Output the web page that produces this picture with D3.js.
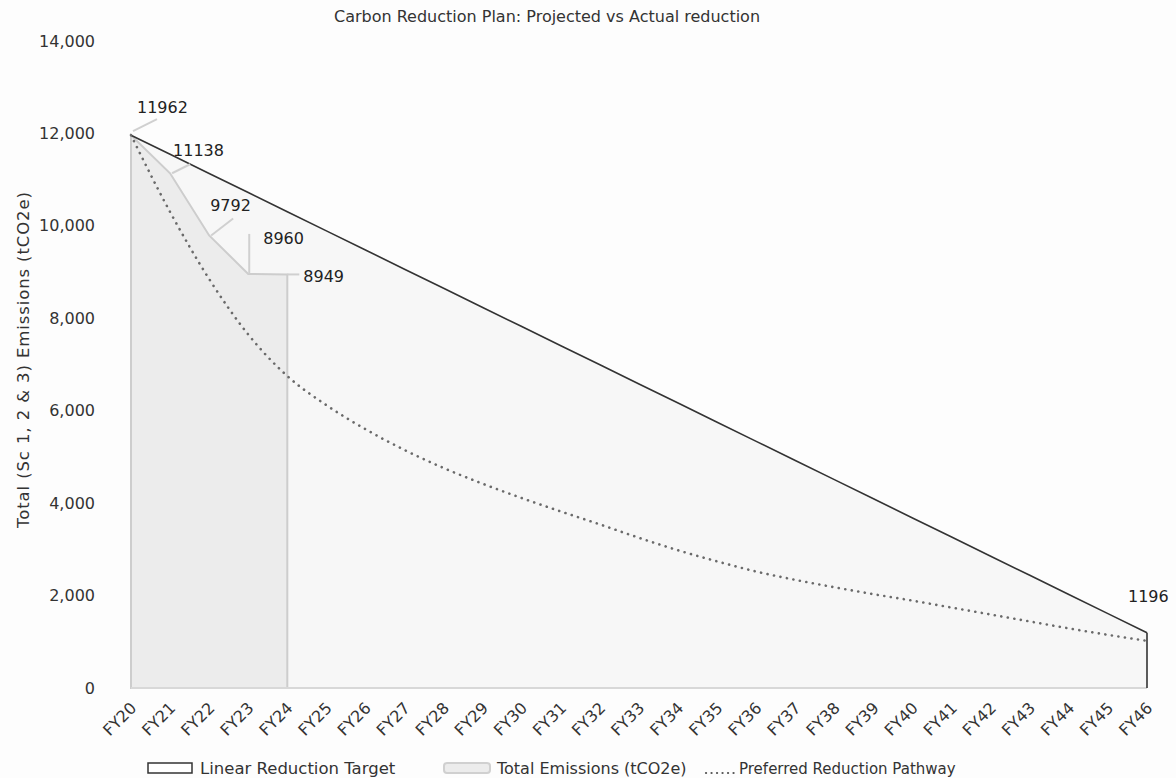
<!DOCTYPE html>
<html>
<head>
<meta charset="utf-8">
<script src="https://cdn.jsdelivr.net/npm/d3@7/dist/d3.min.js"></script>
<style>
  html, body { margin: 0; padding: 0; background: #fdfdfd; }
  svg { display: block; }
  text { font-family: "DejaVu Sans", Verdana, sans-serif; fill: #333; }
</style>
</head>
<body>
<script>
// ---------------- data ----------------
const years = ["FY20","FY21","FY22","FY23","FY24","FY25","FY26","FY27","FY28","FY29","FY30",
  "FY31","FY32","FY33","FY34","FY35","FY36","FY37","FY38","FY39","FY40","FY41","FY42",
  "FY43","FY44","FY45","FY46"];
const linearTarget = [11962,11548,11134,10720,10306,9892,9478,9063,8649,8235,7821,7407,6993,
  6579,6165,5751,5337,4923,4509,4094,3680,3266,2852,2438,2024,1610,1196];
const totalEmissions = [11962,11138,9792,8960,8949];
const preferredPathway = [11962,10300,8850,7650,6750,6120,5600,5150,4760,4420,4110,3820,3540,
  3250,2980,2740,2520,2340,2180,2030,1890,1740,1590,1440,1290,1150,1020];
const yTicks = [0,2000,4000,6000,8000,10000,12000,14000];
const seriesNames = ["Linear Reduction Target","Total Emissions (tCO2e)","Preferred Reduction Pathway"];
const titleText = "Carbon Reduction Plan: Projected vs Actual reduction";
const yAxisTitle = "Total (Sc 1, 2 & 3) Emissions (tCO2e)";

// ---------------- chart ----------------
const W = 1176, H = 778;
const svg = d3.select("body").append("svg").attr("width", W).attr("height", H);
const FONT = "'DejaVu Sans', Verdana, sans-serif";

const x = d3.scalePoint().domain(years).range([131, 1147]);
const y = d3.scaleLinear().domain([0, 14000]).range([688, 41]);

const linData = years.map((yr, i) => ({yr, v: linearTarget[i]}));
const totData = totalEmissions.map((v, i) => ({yr: years[i], v}));
const prefData = years.map((yr, i) => ({yr, v: preferredPathway[i]}));

// linear target area
svg.append("path")
  .datum(linData)
  .attr("fill", "#f7f7f7")
  .attr("d", d3.area().x(d => x(d.yr)).y0(y(0)).y1(d => y(d.v)));

// total emissions area
svg.append("path")
  .datum(totData)
  .attr("fill", "#ececec")
  .attr("stroke", "#cdcdcd")
  .attr("stroke-width", 2)
  .attr("d", d3.area().x(d => x(d.yr)).y0(y(0)).y1(d => y(d.v)));

// baseline
svg.append("line")
  .attr("x1", x(years[0])).attr("x2", x(years[years.length-1]))
  .attr("y1", y(0)).attr("y2", y(0))
  .attr("stroke", "#d8d8d8").attr("stroke-width", 2);

// linear target line
svg.append("path")
  .datum(linData)
  .attr("fill", "none")
  .attr("stroke", "#333")
  .attr("stroke-width", 1.6)
  .attr("d", d3.line().x(d => x(d.yr)).y(d => y(d.v)));
const last = linData[linData.length-1];
svg.append("line")
  .attr("x1", x(last.yr)).attr("x2", x(last.yr))
  .attr("y1", y(last.v)).attr("y2", y(0))
  .attr("stroke", "#333").attr("stroke-width", 1.6);

// preferred pathway dotted
svg.append("path")
  .datum(prefData)
  .attr("fill", "none")
  .attr("stroke", "#6a6a6a")
  .attr("stroke-width", 2.6)
  .attr("stroke-linecap", "round")
  .attr("stroke-dasharray", "0.1,6.5")
  .attr("d", d3.line().curve(d3.curveMonotoneX).x(d => x(d.yr)).y(d => y(d.v)));

// data labels with leader lines
const labelFont = "16px";
const labels = [
  {yr: years[0], v: totalEmissions[0], dx: 6, dy: -22, lx1: 2, ly1: -4, lx2: 26, ly2: -16},
  {yr: years[1], v: totalEmissions[1], dx: 3, dy: -17, lx1: 2, ly1: 0, lx2: 20, ly2: -9},
  {yr: years[2], v: totalEmissions[2], dx: 1, dy: -24, lx1: 2, ly1: 0, lx2: 24, ly2: -17},
  {yr: years[3], v: totalEmissions[3], dx: 15, dy: -30, lx1: 1, ly1: 0, lx2: 1, ly2: -40},
  {yr: years[4], v: totalEmissions[4], dx: 16, dy: 8, lx1: 0, ly1: 0, lx2: 12, ly2: 0}
];
labels.forEach(l => {
  const px = x(l.yr), py = y(l.v);
  svg.append("line")
    .attr("x1", px + l.lx1).attr("y1", py + l.ly1)
    .attr("x2", px + l.lx2).attr("y2", py + l.ly2)
    .attr("stroke", "#d0d0d0").attr("stroke-width", 2);
  svg.append("text")
    .attr("x", px + l.dx).attr("y", py + l.dy)
    .style("font-size", labelFont).style("fill", "#222")
    .text(l.v);
});
svg.append("text")
  .attr("x", x(last.yr) - 19).attr("y", y(last.v) - 31)
  .style("font-size", labelFont).style("fill", "#222")
  .text(last.v);

// y axis
const yAxis = svg.append("g")
  .attr("transform", "translate(97,0)")
  .call(d3.axisLeft(y).tickValues(yTicks).tickFormat(d3.format(",")).tickSize(0).tickPadding(2));
yAxis.select(".domain").remove();
yAxis.selectAll("text").style("font-size", "16px").style("fill", "#333").style("font-family", FONT);

// x axis
const xAxis = svg.append("g")
  .attr("transform", `translate(0,${y(0)})`)
  .call(d3.axisBottom(x).tickSize(0).tickPadding(0));
xAxis.select(".domain").remove();
xAxis.selectAll("text")
  .style("font-size", "16px").style("fill", "#333").style("font-family", FONT)
  .attr("text-anchor", "end")
  .attr("dy", 0)
  .attr("transform", "translate(6,21) rotate(-45)");

// title
svg.append("text")
  .attr("x", 547).attr("y", 22)
  .attr("text-anchor", "middle")
  .style("font-size", "16px").style("fill", "#333")
  .text(titleText);

// y-axis title
svg.append("text")
  .attr("transform", "translate(29,360) rotate(-90)")
  .attr("text-anchor", "middle")
  .attr("textLength", 336)
  .attr("lengthAdjust", "spacing")
  .style("font-size", "16.5px").style("fill", "#333")
  .text(yAxisTitle);

// legend
const lg = svg.append("g");
const legY = 768;
lg.append("rect").attr("x", 148).attr("y", legY - 5).attr("width", 44).attr("height", 10)
  .attr("fill", "#fff").attr("stroke", "#333").attr("stroke-width", 1.5);
lg.append("text").attr("x", 200).attr("y", legY + 6).style("font-size", "16.5px").text(seriesNames[0]);
lg.append("rect").attr("x", 444).attr("y", legY - 5).attr("width", 46).attr("height", 10)
  .attr("fill", "#ececec").attr("stroke", "#d0d0d0").attr("stroke-width", 2).attr("rx", 3);
lg.append("text").attr("x", 497).attr("y", legY + 6).style("font-size", "16px").text(seriesNames[1]);
lg.append("line").attr("x1", 706).attr("x2", 734).attr("y1", legY + 5).attr("y2", legY + 5)
  .attr("stroke", "#555").attr("stroke-width", 2.2).attr("stroke-linecap", "round")
  .attr("stroke-dasharray", "0.1,5.4");
lg.append("text").attr("x", 739).attr("y", legY + 6).style("font-size", "15px").text(seriesNames[2]);
</script>
</body>
</html>
